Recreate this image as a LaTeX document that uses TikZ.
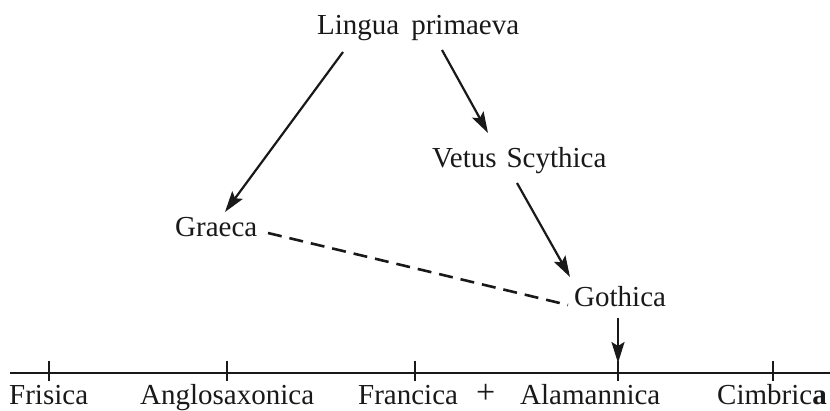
\documentclass[tikz,border=0pt]{standalone}
\usepackage{fontspec}
\setmainfont{Liberation Serif}
\usetikzlibrary{arrows.meta}
\begin{document}
\begin{tikzpicture}[x=1pt,y=-1pt,
  lbl/.style={anchor=base west,inner sep=0pt,font=\fontsize{29}{34}\selectfont,text=black!90},
  arr/.style={line width=2.2pt,draw=black!90,-{Stealth[length=21pt,width=13pt,inset=4pt]}},
  dsh/.style={line width=2.6pt,draw=black!90,dash pattern=on 14pt off 8pt},
  axisline/.style={line width=2.6pt,draw=black!90},
  tck/.style={line width=1.6pt,draw=black!90}]
\useasboundingbox (0,0) rectangle (830,411);
% labels
\node[lbl] (lingua) at (317,35) {Lingua\hspace{12pt}primaeva};
\node[lbl] (vetus) at (432,168) {Vetus\hspace{10pt}Scythica};
\node[lbl] (graeca) at (175,237) {Graeca};
\node[lbl] (gothica) at (574,307) {Gothica};
\node[lbl] (frisica) at (9,405) {Frisica};
\node[lbl] (anglo) at (140,405) {Anglosaxonica};
\node[lbl] (francica) at (358,405) {Francica};
\node[lbl,font=\fontsize{34}{36}\selectfont] (plus) at (476,403) {+};
\node[lbl] (alam) at (520,405) {Alamannica};
\node[lbl] (cimbrica) at (717,405) {Cimbric\textbf{a}};
% connector end points
\coordinate (l1) at (343,52);
\coordinate (g1) at (225,212);
\coordinate (l2) at (442,50);
\coordinate (v1) at (488,133);
\coordinate (v2) at (517,183);
\coordinate (go1) at (570,277);
\coordinate (gr2) at (268,233);
\coordinate (go2) at (568,305);
\coordinate (go3) at (618,318);
\coordinate (ax) at (618,363);
\coordinate (axL) at (10,373);
\coordinate (axR) at (830,373);
% connectors
\draw[arr] (l1) -- (g1);
\draw[arr] (l2) -- (v1);
\draw[arr] (v2) -- (go1);
\draw[dsh] (gr2) -- (go2);
\draw[arr] (go3) -- (ax);
% axis
\draw[axisline] (axL) -- (axR);
\foreach \t in {49,227,415,618,773}
  \draw[tck] (\t,361) -- (\t,381);
\end{tikzpicture}
\end{document}
